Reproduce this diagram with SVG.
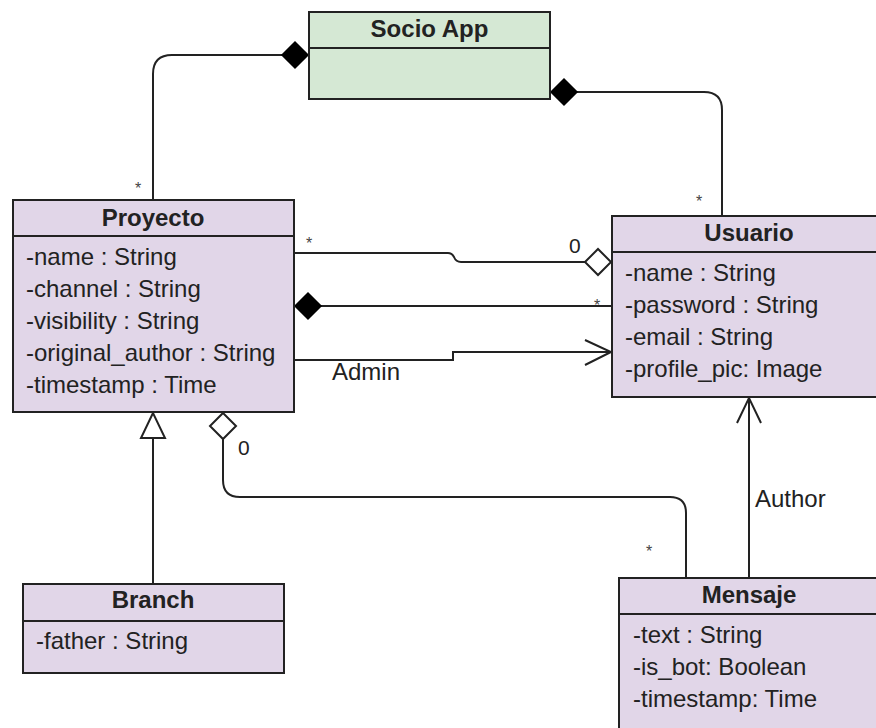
<svg xmlns="http://www.w3.org/2000/svg" width="876" height="728" viewBox="0 0 876 728">
<style>
.box{fill:#e1d6e8;stroke:#222;stroke-width:2}
.green{fill:#d5e8d4;stroke:#222;stroke-width:2}
.div{stroke:#222;stroke-width:2}
.title{font-family:"Liberation Sans",Arial,sans-serif;font-size:24px;font-weight:bold;fill:#222;text-anchor:middle}
.attr{font-family:"Liberation Sans",Arial,sans-serif;font-size:24px;fill:#222}
.line{fill:none;stroke:#222;stroke-width:2}
.filled{fill:#000;stroke:#000;stroke-width:1.5}
.hollow{fill:#fff;stroke:#222;stroke-width:2}
.lbl{font-family:"Liberation Sans",Arial,sans-serif;font-size:24px;fill:#222}
.num{font-family:"Liberation Sans",Arial,sans-serif;font-size:21px;fill:#222}
.star{font-family:"Liberation Sans",Arial,sans-serif;font-size:16px;fill:#444;text-anchor:middle}
</style>
<rect width="876" height="728" fill="#fff"/>

<g id="connectors">
  <!-- Socio App to Proyecto -->
  <path class="line" d="M282,55 H172 Q153,55 153,74 V200"/>
  <polygon class="filled" points="282,55 295,42 308,55 295,68"/>
  <text class="star" x="138" y="194">*</text>
  <!-- Socio App to Usuario -->
  <path class="line" d="M577,92 H704 Q722,92 722,110 V216"/>
  <polygon class="filled" points="551,92 564,79 577,92 564,105"/>
  <text class="star" x="699" y="207">*</text>
  <!-- Proyecto to Usuario aggregation -->
  <path class="line" d="M294,253 H448 Q452,253 454,257 Q456,262 461,262 H585"/>
  <polygon class="hollow" points="585,262 598,249 611,262 598,275"/>
  <text class="star" x="309" y="249">*</text>
  <text class="num" x="569" y="253">0</text>
  <!-- Proyecto composition Usuario -->
  <path class="line" d="M321,306 H612"/>
  <polygon class="filled" points="295,306 308,293 321,306 308,319"/>
  <text class="star" x="597" y="311">*</text>
  <!-- Admin -->
  <path class="line" d="M294,360 H453 V352 H611"/>
  <polyline class="line" points="585,340 611,352 585,365"/>
  <text class="lbl" x="332" y="380">Admin</text>
  <!-- Generalization Branch -> Proyecto -->
  <path class="line" d="M153,438 V584"/>
  <polygon class="hollow" points="153,413 141,438 165,438"/>
  <!-- Proyecto aggregation Mensaje -->
  <path class="line" d="M223,439 V480 Q223,497 240,497 H670 Q686,497 686,513 V578"/>
  <polygon class="hollow" points="223,413 236,426 223,439 210,426"/>
  <text class="num" x="238" y="455">0</text>
  <text class="star" x="649" y="557">*</text>
  <!-- Author -->
  <path class="line" d="M749,578 V398"/>
  <polyline class="line" points="737,423 749,398 761,423"/>
  <text class="lbl" x="755" y="507">Author</text>
</g>

<g id="socio-app">
  <rect class="green" x="309" y="12" width="241" height="87"/>
  <line class="div" x1="309" y1="48" x2="550" y2="48"/>
  <text class="title" x="429.5" y="37">Socio App</text>
</g>

<g id="proyecto">
  <rect class="box" x="13" y="200" width="281" height="212"/>
  <line class="div" x1="13" y1="236" x2="294" y2="236"/>
  <text class="title" x="153" y="226">Proyecto</text>
  <text class="attr" x="26" y="265">-name : String</text>
  <text class="attr" x="26" y="297">-channel : String</text>
  <text class="attr" x="26" y="329">-visibility : String</text>
  <text class="attr" x="26" y="361">-original_author : String</text>
  <text class="attr" x="26" y="393">-timestamp : Time</text>
</g>

<g id="usuario">
  <rect class="box" x="612" y="216" width="270" height="181"/>
  <line class="div" x1="612" y1="252" x2="882" y2="252"/>
  <text class="title" x="749" y="241">Usuario</text>
  <text class="attr" x="625" y="281">-name : String</text>
  <text class="attr" x="625" y="313">-password : String</text>
  <text class="attr" x="625" y="345">-email : String</text>
  <text class="attr" x="625" y="377">-profile_pic: Image</text>
</g>

<g id="branch">
  <rect class="box" x="23" y="584" width="261" height="89"/>
  <line class="div" x1="23" y1="621" x2="284" y2="621"/>
  <text class="title" x="153" y="608">Branch</text>
  <text class="attr" x="36" y="649">-father : String</text>
</g>

<g id="mensaje">
  <rect class="box" x="619" y="578" width="263" height="160"/>
  <line class="div" x1="619" y1="614" x2="882" y2="614"/>
  <text class="title" x="749" y="603">Mensaje</text>
  <text class="attr" x="633" y="643">-text : String</text>
  <text class="attr" x="633" y="675">-is_bot: Boolean</text>
  <text class="attr" x="633" y="707">-timestamp: Time</text>
</g>
</svg>
